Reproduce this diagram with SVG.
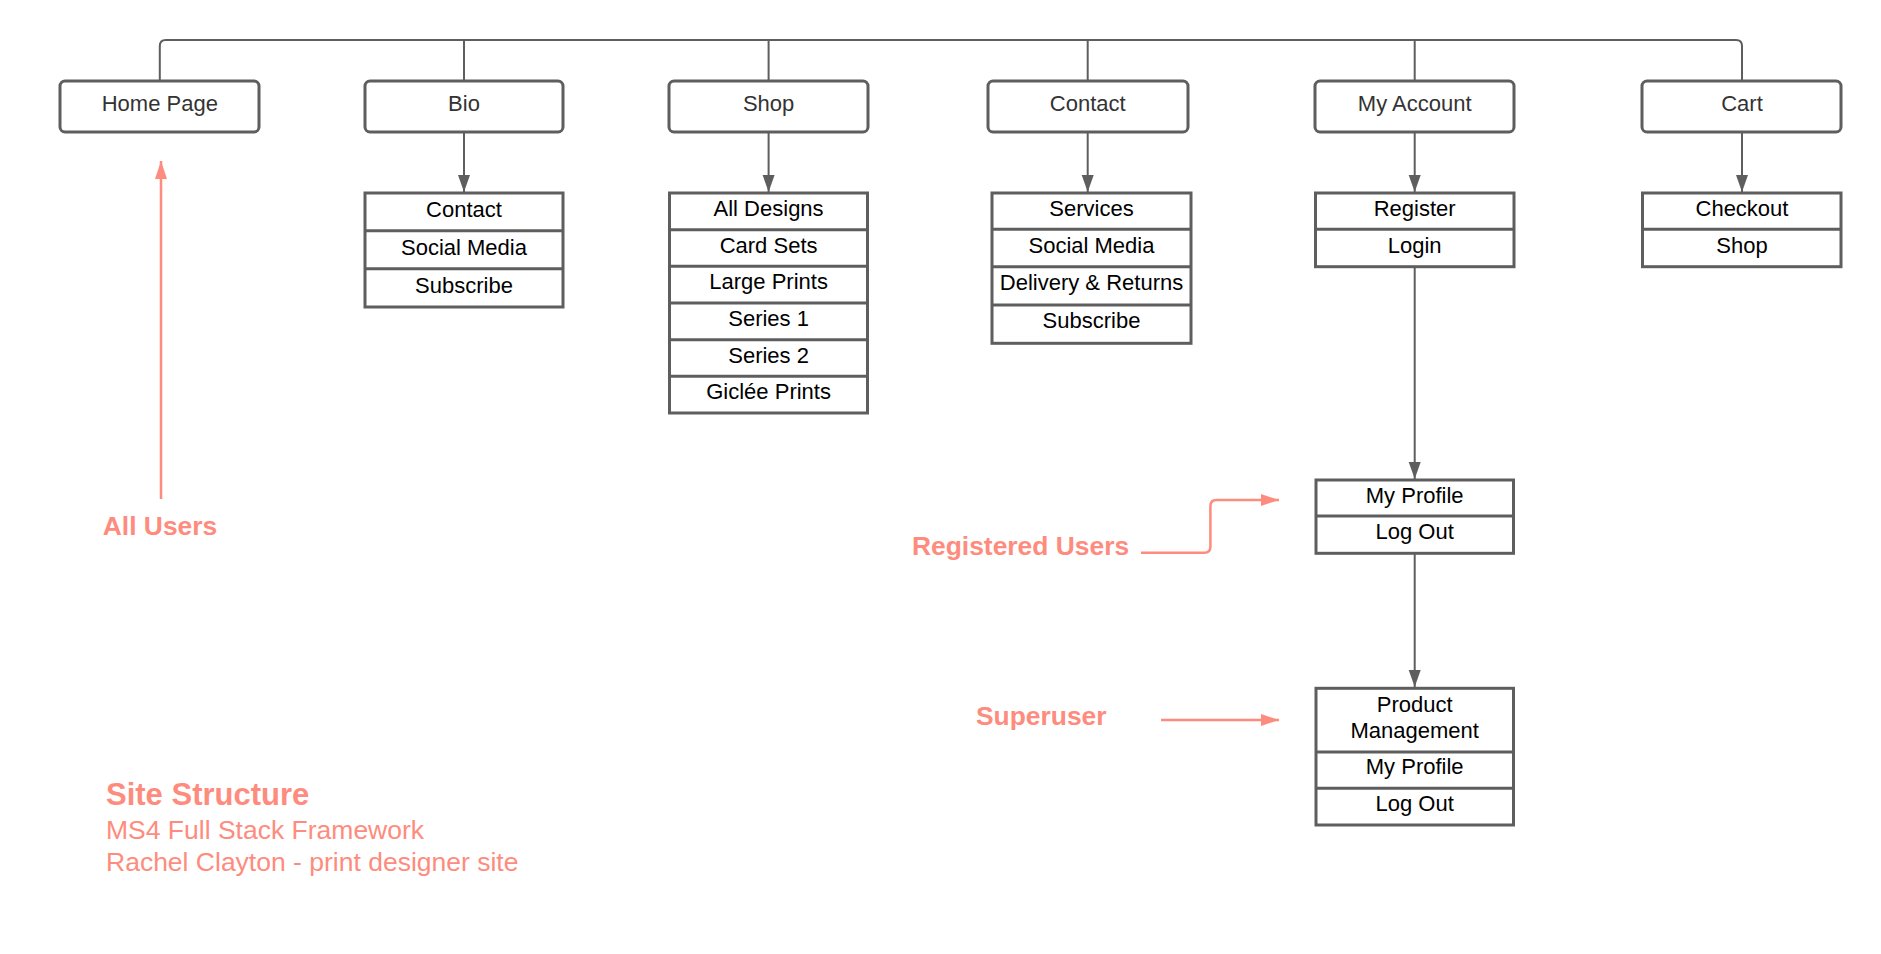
<svg xmlns="http://www.w3.org/2000/svg" width="1881" height="954" viewBox="0 0 1881 954">
  <style>
    .title-box { fill: #ffffff; stroke: #5e5e5e; stroke-width: 3; }
    .list-box { fill: #ffffff; stroke: #5e5e5e; stroke-width: 3; }
    .sep { stroke: #5e5e5e; stroke-width: 3; }
    .title { font-family: "Liberation Sans", Arial, sans-serif; font-size: 22px; fill: #333333; text-anchor: middle; }
    .item { font-family: "Liberation Sans", Arial, sans-serif; font-size: 22px; fill: #000000; text-anchor: middle; }
    .conn { fill: none; stroke: #5e5e5e; stroke-width: 2; }
    .pink { fill: none; stroke: #fe8c7e; stroke-width: 2.5; }
    .label { font-family: "Liberation Sans", Arial, sans-serif; font-size: 26.4px; font-weight: bold; fill: #fe8c7e; }
    .note { font-family: "Liberation Sans", Arial, sans-serif; font-size: 26.5px; fill: #fe8c7e; }
  </style>
  <defs>
    <marker id="arrow-gray" markerUnits="userSpaceOnUse" markerWidth="18" markerHeight="14" refX="17" refY="6" orient="auto">
      <path d="M0,0 L17,6 L0,12 Z" fill="#5e5e5e"/>
    </marker>
    <marker id="arrow-pink" markerUnits="userSpaceOnUse" markerWidth="19" markerHeight="14" refX="18" refY="6" orient="auto">
      <path d="M0,0 L18,6 L0,12 Z" fill="#fe8c7e"/>
    </marker>
  </defs>

  <!-- connectors -->
  <g id="connectors">
    <path class="conn" d="M159.8,81 V46 Q159.8,40 165.8,40 H1736 Q1742,40 1742,46 V81"/>
    <path class="conn" d="M464,40 V81"/>
    <path class="conn" d="M768.6,40 V81"/>
    <path class="conn" d="M1087.7,40 V81"/>
    <path class="conn" d="M1414.7,40 V81"/>
    <path class="conn" d="M464,132 V192" marker-end="url(#arrow-gray)"/>
    <path class="conn" d="M768.6,132 V192" marker-end="url(#arrow-gray)"/>
    <path class="conn" d="M1087.7,132 V192" marker-end="url(#arrow-gray)"/>
    <path class="conn" d="M1414.7,132 V192" marker-end="url(#arrow-gray)"/>
    <path class="conn" d="M1742,132 V192" marker-end="url(#arrow-gray)"/>
    <path class="conn" d="M1414.7,266.7 V479" marker-end="url(#arrow-gray)"/>
    <path class="conn" d="M1414.7,553.3 V687" marker-end="url(#arrow-gray)"/>
    <path class="pink" d="M161,499 V161" marker-end="url(#arrow-pink)"/>
    <path class="pink" d="M1141,552.7 H1204.4 Q1210.4,552.7 1210.4,546.7 V506 Q1210.4,500 1216.4,500 H1279" marker-end="url(#arrow-pink)"/>
    <path class="pink" d="M1161,720 H1279" marker-end="url(#arrow-pink)"/>
  </g>

  <!-- top-level pages -->
  <g id="home-page">
    <rect class="title-box" x="60" y="81" width="199" height="51" rx="5"/>
    <text class="title" x="159.8" y="111">Home Page</text>
  </g>
  <g id="bio">
    <rect class="title-box" x="365" y="81" width="198" height="51" rx="5"/>
    <text class="title" x="464" y="111">Bio</text>
  </g>
  <g id="shop">
    <rect class="title-box" x="669" y="81" width="199" height="51" rx="5"/>
    <text class="title" x="768.6" y="111">Shop</text>
  </g>
  <g id="contact">
    <rect class="title-box" x="988" y="81" width="200" height="51" rx="5"/>
    <text class="title" x="1087.7" y="111">Contact</text>
  </g>
  <g id="my-account">
    <rect class="title-box" x="1315" y="81" width="199" height="51" rx="5"/>
    <text class="title" x="1414.7" y="111">My Account</text>
  </g>
  <g id="cart">
    <rect class="title-box" x="1642" y="81" width="199" height="51" rx="5"/>
    <text class="title" x="1742" y="111">Cart</text>
  </g>

  <!-- sub-page lists -->
  <g id="bio-list">
    <rect class="list-box" x="365" y="193" width="198" height="114"/>
    <line class="sep" x1="365" y1="230.7" x2="563" y2="230.7"/>
    <line class="sep" x1="365" y1="268.7" x2="563" y2="268.7"/>
    <text class="item" x="464" y="216.7">Contact</text>
    <text class="item" x="464" y="255">Social Media</text>
    <text class="item" x="464" y="292.7">Subscribe</text>
  </g>
  <g id="shop-list">
    <rect class="list-box" x="669.5" y="193" width="198" height="220"/>
    <line class="sep" x1="669.5" y1="229.7" x2="867.5" y2="229.7"/>
    <line class="sep" x1="669.5" y1="266.3" x2="867.5" y2="266.3"/>
    <line class="sep" x1="669.5" y1="303" x2="867.5" y2="303"/>
    <line class="sep" x1="669.5" y1="339.7" x2="867.5" y2="339.7"/>
    <line class="sep" x1="669.5" y1="376.3" x2="867.5" y2="376.3"/>
    <text class="item" x="768.6" y="216">All Designs</text>
    <text class="item" x="768.6" y="252.7">Card Sets</text>
    <text class="item" x="768.6" y="289.3">Large Prints</text>
    <text class="item" x="768.6" y="326">Series 1</text>
    <text class="item" x="768.6" y="362.7">Series 2</text>
    <text class="item" x="768.6" y="399.4">Giclée Prints</text>
  </g>
  <g id="contact-list">
    <rect class="list-box" x="992" y="193" width="199" height="150.3"/>
    <line class="sep" x1="992" y1="229.3" x2="1191" y2="229.3"/>
    <line class="sep" x1="992" y1="266.7" x2="1191" y2="266.7"/>
    <line class="sep" x1="992" y1="305" x2="1191" y2="305"/>
    <text class="item" x="1091.5" y="216">Services</text>
    <text class="item" x="1091.5" y="252.7">Social Media</text>
    <text class="item" x="1091.5" y="290">Delivery &amp; Returns</text>
    <text class="item" x="1091.5" y="328.3">Subscribe</text>
  </g>
  <g id="account-list">
    <rect class="list-box" x="1315.5" y="193" width="198.5" height="73.7"/>
    <line class="sep" x1="1315.5" y1="229.3" x2="1514" y2="229.3"/>
    <text class="item" x="1414.7" y="216">Register</text>
    <text class="item" x="1414.7" y="252.7">Login</text>
  </g>
  <g id="cart-list">
    <rect class="list-box" x="1642.5" y="193" width="198.5" height="73.7"/>
    <line class="sep" x1="1642.5" y1="229.3" x2="1841" y2="229.3"/>
    <text class="item" x="1742" y="216">Checkout</text>
    <text class="item" x="1742" y="252.7">Shop</text>
  </g>
  <g id="registered-list">
    <rect class="list-box" x="1316" y="480" width="197.5" height="73.3"/>
    <line class="sep" x1="1316" y1="516" x2="1513.5" y2="516"/>
    <text class="item" x="1414.7" y="502.7">My Profile</text>
    <text class="item" x="1414.7" y="539.3">Log Out</text>
  </g>
  <g id="superuser-list">
    <rect class="list-box" x="1316" y="688.3" width="197.5" height="136.7"/>
    <line class="sep" x1="1316" y1="752" x2="1513.5" y2="752"/>
    <line class="sep" x1="1316" y1="788.3" x2="1513.5" y2="788.3"/>
    <text class="item" x="1414.7" y="711.7">Product</text>
    <text class="item" x="1414.7" y="738.3">Management</text>
    <text class="item" x="1414.7" y="774">My Profile</text>
    <text class="item" x="1414.7" y="811">Log Out</text>
  </g>

  <!-- user-level labels -->
  <g id="all-users">
    <text class="label" x="160" y="535" text-anchor="middle">All Users</text>
  </g>
  <g id="registered-users">
    <text class="label" x="912" y="555">Registered Users</text>
  </g>
  <g id="superuser">
    <text class="label" x="976" y="725">Superuser</text>
  </g>

  <!-- caption -->
  <g id="caption">
    <text class="label" x="106" y="805" style="font-size:31px">Site Structure</text>
    <text class="note" x="106" y="839">MS4 Full Stack Framework</text>
    <text class="note" x="106" y="871">Rachel Clayton - print designer site</text>
  </g>
</svg>
